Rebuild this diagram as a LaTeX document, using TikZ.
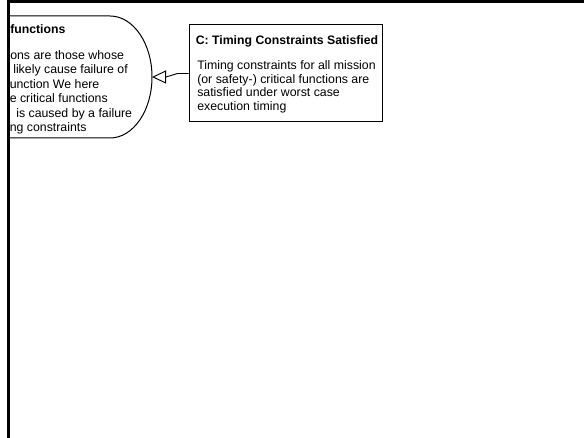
\documentclass[tikz,border=0pt]{standalone}
\usepackage{fontspec}
\setmainfont{Liberation Sans}
\usetikzlibrary{arrows.meta}
\begin{document}
\begin{tikzpicture}[x=0.75pt,y=-0.75pt,
  txt/.style={inner sep=0pt, anchor=base west, font=\fontsize{9.25pt}{10.6pt}\selectfont},
  ttl/.style={inner sep=0pt, anchor=base west, font=\fontsize{9.2pt}{10.6pt}\selectfont\bfseries},
  outline/.style={draw=black, line width=0.75pt},
  edge/.style={line width=0.7pt, draw=black},
  framerule/.style={draw=black},
]
\useasboundingbox (0,0) rectangle (584,438);
\fill[white] (0,0) rectangle (584,438);

% critical functions context (cut off by the page edge)
\begin{scope}
  \clip (9,0) rectangle (584,438);
  \draw[outline, fill=white] (-20,16) -- (110,16)
    arc[start angle=90, end angle=-90, x radius=31.5pt, y radius=45.75pt] -- (-20,138);
  \node[ttl] (crittitle) at (10,33.5) {functions};
  \node[txt] (critA) at (10,59.5)  {ons are those whose};
  \node[txt] (critB) at (13,73.9)  {likely cause failure of};
  \node[txt] (critC) at (9.5,88.3) {unction We here};
  \node[txt] (critD) at (9.5,102.7){e critical functions};
  \node[txt] (critE) at (16,117.1) {is caused by a failure};
  \node[txt] (critF) at (9.5,131.5){ng constraints};
\end{scope}
\coordinate (crit) at (152,77);

% context C
\node[outline, minimum width=144.75pt, minimum height=72.75pt, inner sep=0pt] (ctx) at (285.5,73.5) {};
\node[ttl, anchor=base] (ctxtitle) at (287,44.5) {C: Timing Constraints Satisfied};
\node[txt] (ctxA) at (197,69.5)  {Timing constraints for all mission};
\node[txt] (ctxB) at (197,83.2)  {(or safety-) critical functions are};
\node[txt] (ctxC) at (197,96.9)  {satisfied under worst case};
\node[txt] (ctxD) at (197,110.6) {execution timing};

% in-context-of link
\draw[edge, -{Triangle[open, length=10.5pt, width=9.75pt, line width=0.7pt]}]
  (ctx.west) -- ++(-11,0) -- (166,77) -- (crit);

% page edges
\draw[framerule, line width=2.4pt] (7,1.6) -- (584,1.6);
\draw[framerule, line width=1.9pt] (8.3,0) -- (8.3,438);
\end{tikzpicture}
\end{document}
